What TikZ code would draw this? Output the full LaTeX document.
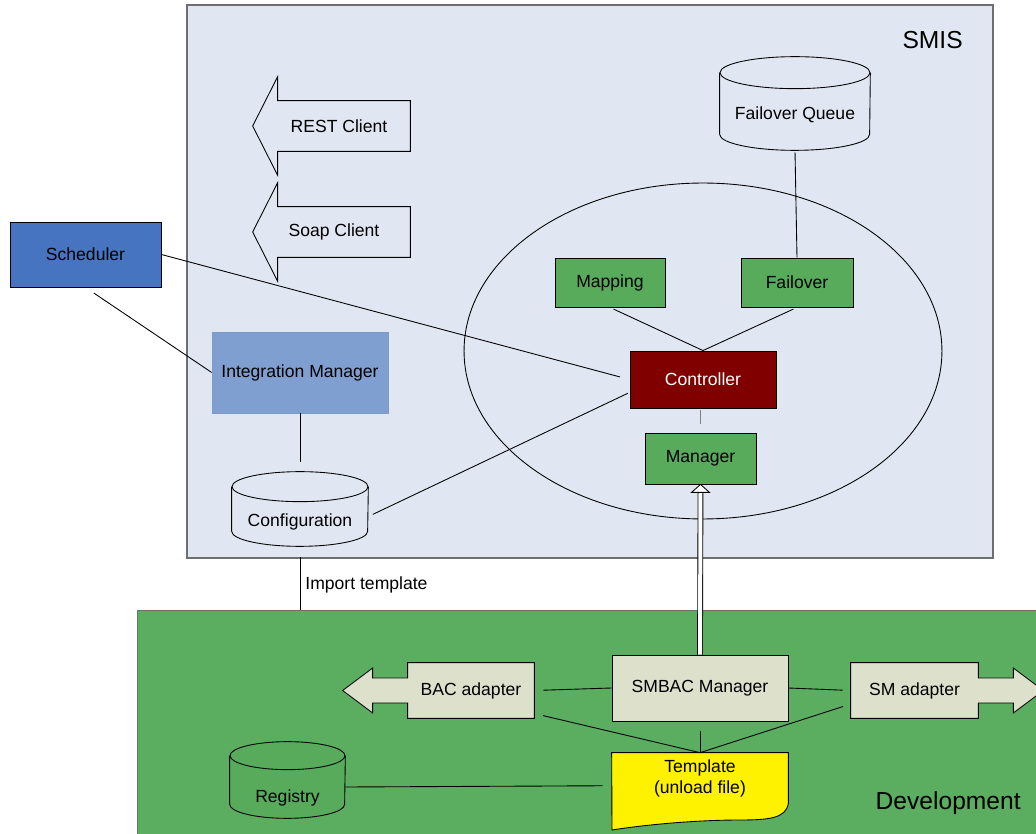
\documentclass[tikz,border=0pt]{standalone}
\usepackage{fontspec}
\setmainfont{Liberation Sans}
\usetikzlibrary{calc}

\definecolor{smisbg}{HTML}{E1E7F2}
\definecolor{devgreen}{HTML}{5BAD5F}
\definecolor{boxgreen}{HTML}{57AB5B}
\definecolor{schedblue}{HTML}{4674C1}
\definecolor{integblue}{HTML}{7F9FD0}
\definecolor{ctrlred}{HTML}{800000}
\definecolor{adaptgray}{HTML}{DDE1CC}
\definecolor{framegray}{HTML}{6E6E6E}

\pgfdeclarelayer{bottom}
\pgfdeclarelayer{back}
\pgfsetlayers{bottom,back,main}

\tikzset{
  box/.style={draw, line width=0.5pt, inner sep=0pt, font=\fontsize{10}{12}\selectfont},
  txt/.style={inner sep=0pt, font=\fontsize{10}{12}\selectfont},
  big/.style={inner sep=0pt, font=\fontsize{14}{16}\selectfont},
  link/.style={line width=0.5pt},
}

\begin{document}
\begin{tikzpicture}[x=0.02cm, y=-0.02cm]
\path[use as bounding box, clip] (0,0) rectangle (1036,834);

\begin{pgfonlayer}{bottom}
  \fill[white] (0,0) rectangle (1036,834);
  % SMIS area
  \draw[framegray, fill=smisbg, line width=0.8pt] (187,5) rectangle (993,558);
  % Development area
  \node[draw=framegray, fill=devgreen, line width=0.8pt, inner sep=0pt,
        minimum width=18.4cm, minimum height=5cm, anchor=north west] (dev) at (137,610) {};
\end{pgfonlayer}

\node[big, anchor=east] (smis) at (963,40) {SMIS};
\node[big, anchor=east] (devlabel) at (1021,803) {Development};

\draw[link] (703,351) ellipse [x radius=4.78cm, y radius=3.36cm];

% clients
\node[txt, minimum width=2.84cm, minimum height=1cm] (rest) at (339,126) {REST Client};
\draw[link] (rest.north east) -- ($(rest.north west)+(10,0)$) -- ++(0,-24) -- ($(rest.west)+(-15,0)$)
  -- ($(rest.south west)+(10,24)$) -- ($(rest.south west)+(10,0)$) -- (rest.south east) -- cycle;
\node[txt, minimum width=3.04cm, minimum height=1cm] (soap) at (334,232) {Soap Client};
\draw[link] (soap.north east) -- ($(soap.north west)+(20,0)$) -- ++(0,-24) -- ($(soap.west)+(-5,0)$)
  -- ($(soap.south west)+(20,24)$) -- ($(soap.south west)+(20,0)$) -- (soap.south east) -- cycle;

% databases
\node[txt, minimum width=3cm, minimum height=1.54cm, text height=11.5pt] (fq) at (795,111.5) {Failover Queue};
\draw[link] (fq.north west) -- ($(fq.south west)+(0,-16)$)
  arc[start angle=180, end angle=360, x radius=1.5cm, y radius=0.32cm] -- (fq.north east);
\draw[link] (fq.north) ellipse [x radius=1.5cm, y radius=0.32cm];

\node[txt, minimum width=2.72cm, minimum height=1.18cm, text height=13pt] (cfg) at (300,516.5) {Configuration};
\draw[link] (cfg.north west) -- ($(cfg.south west)+(0,-15)$)
  arc[start angle=180, end angle=360, x radius=1.36cm, y radius=0.3cm] -- (cfg.north east);
\draw[link] (cfg.north) ellipse [x radius=1.36cm, y radius=0.3cm];

% boxes
\node[box, fill=schedblue, minimum width=3.02cm, minimum height=1.3cm] (sched) at (85.5,254.5) {Scheduler};
\node[box, draw=integblue!85!gray, line width=0.4pt, fill=integblue, minimum width=3.52cm, minimum height=1.62cm] (integ) at (300,372.5) {Integration Manager};
\node[box, fill=boxgreen, minimum width=2.2cm, minimum height=0.98cm] (map) at (610,282.5) {Mapping};
\node[box, fill=boxgreen, minimum width=2.24cm, minimum height=0.98cm] (fo) at (797,282.5) {Failover};
\node[box, fill=ctrlred, text=white, minimum width=2.92cm, minimum height=1.14cm] (ctrl) at (703,379.5) {Controller};
\node[box, fill=boxgreen, minimum width=2.22cm, minimum height=1.02cm] (mgr) at (700.5,458.5) {Manager};

% development parts
\node[box, fill=adaptgray, minimum width=3.52cm, minimum height=1.32cm] (smbac) at (700,688) {SMBAC Manager};
\node[txt, minimum width=2.52cm, minimum height=1.1cm] (bac) at (471,690.5) {BAC adapter};
\node[txt, minimum width=2.54cm, minimum height=1.1cm] (sm) at (914.5,690.5) {SM adapter};
\node[txt, minimum width=3.52cm, minimum height=1cm, align=center] (tpl) at (700,778) {Template\\(unload file)};
\node[txt, minimum width=2.3cm, minimum height=1.24cm, text height=20pt] (reg) at (287.5,787) {Registry};

\begin{pgfonlayer}{back}
  \draw[link, fill=adaptgray] (bac.north east) -- (bac.north west) -- ($(bac.west)+(0,-12.5)$)
    -- ($(bac.west)+(-35,-12.5)$) -- ($(bac.west)+(-35,-22.5)$) -- ($(bac.west)+(-65,0)$)
    -- ($(bac.west)+(-35,22.5)$) -- ($(bac.west)+(-35,12.5)$) -- ($(bac.west)+(0,12.5)$)
    -- (bac.south west) -- (bac.south east) -- cycle;
  \draw[link, fill=adaptgray] (sm.north west) -- (sm.north east) -- ($(sm.east)+(0,-12.5)$)
    -- ($(sm.east)+(35,-12.5)$) -- ($(sm.east)+(35,-22.5)$) -- ($(sm.east)+(65,0)$)
    -- ($(sm.east)+(35,22.5)$) -- ($(sm.east)+(35,12.5)$) -- ($(sm.east)+(0,12.5)$)
    -- (sm.south east) -- (sm.south west) -- cycle;
  \draw[link, fill=yellow] (tpl.north west) -- (tpl.north east) -- (tpl.south east)
    .. controls (786,818) and (770,820) .. (740,820)
    .. controls (700,820) and (650,824) .. (612,830) -- cycle;
  \draw[link, fill=boxgreen] (reg.north west) -- ($(reg.south west)+(0,-14)$)
    arc[start angle=180, end angle=360, x radius=1.15cm, y radius=0.28cm] -- (reg.north east);
  \draw[link, fill=boxgreen] (reg.north) ellipse [x radius=1.15cm, y radius=0.28cm];
\end{pgfonlayer}

% connectors
\draw[link, shorten <=0.2cm] (sched.south) -- (integ.west);
\draw[link, shorten >=0.2cm] (sched.east) -- (ctrl.west);
\draw[link, shorten >=0.5cm] (integ.south) -- (cfg.north);
\draw[link, shorten <=0.1cm, shorten >=0.04cm] (cfg.east) -- (ctrl.190);
\draw[link, shorten <=0.08cm] (map.south) -- (ctrl.north);
\draw[link, shorten <=0.08cm] (fo.south) -- (ctrl.north);
\draw[link, shorten <=0.04cm] (fq.south) -- (fo.north);
\draw[link, gray, shorten <=0.04cm, shorten >=0.18cm] (mgr.north |- ctrl.south) -- (mgr.north);
\draw[link, shorten <=0.22cm] (cfg.south) -- (cfg.south |- dev.north)
  node[txt, pos=0.6, right=0.1cm] (imp) {Import template};

\draw[link, double=white, double distance=0.08cm] (smbac.north) -- ($(mgr.south)+(0,8)$);
\draw[link, fill=white] (mgr.south) -- ++(9,8) -- ++(-18,0) -- cycle;

\draw[link, shorten <=0.18cm] (bac.east) -- (smbac.west);
\draw[link, shorten >=0.16cm] (smbac.east) -- (sm.west);
\draw[link, shorten <=0.18cm] (bac.-20) -- (tpl.north);
\draw[link, shorten <=0.16cm] (sm.192) -- (tpl.north);
\draw[link, shorten <=0.2cm] (smbac.south) -- (tpl.north);
\draw[link, shorten >=0.18cm] (reg.east) -- (tpl.185);
\end{tikzpicture}
\end{document}
